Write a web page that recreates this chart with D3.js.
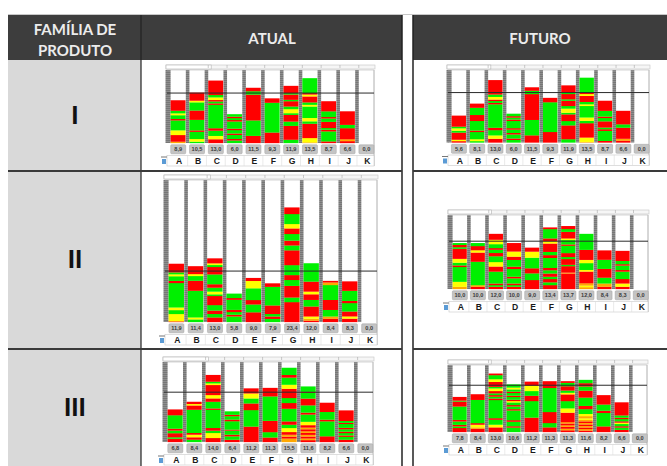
<!DOCTYPE html>
<html>
<head>
<meta charset="utf-8">
<script src="https://cdn.jsdelivr.net/npm/d3@7.9.0/dist/d3.min.js"></script>
<style>
  body { margin: 0; background: #fff; }
  svg { display: block; }
</style>
</head>
<body>
<svg id="chart" width="667" height="466"></svg>
<script>
// yamazumi charts: product family x (current / future)
const categories = ['A', 'B', 'C', 'D', 'E', 'F', 'G', 'H', 'I', 'J', 'K'];
const families = ['I', 'II', 'III'];
const headers = ['ATUAL', 'FUTURO'];
const taktTime = 10.4;

const atual1Totals  = [8.9, 10.5, 13.0, 6.0, 11.5, 9.3, 11.9, 13.5, 8.7, 6.6, 0.0];
const futuro1Totals = [5.6, 8.1, 13.0, 6.0, 11.5, 9.3, 11.9, 13.5, 8.7, 6.6, 0.0];
const atual2Totals  = [11.9, 11.4, 13.0, 5.8, 9.0, 7.9, 23.4, 12.0, 8.4, 8.3, 0.0];
const futuro2Totals = [10.0, 10.0, 12.0, 10.0, 9.0, 13.4, 13.7, 12.0, 8.4, 8.3, 0.0];
const atual3Totals  = [6.8, 8.4, 14.0, 6.4, 11.2, 11.3, 15.5, 11.6, 8.2, 6.6, 0.0];
const futuro3Totals = [7.8, 8.4, 13.0, 10.6, 11.2, 11.3, 11.3, 11.6, 8.2, 6.6, 0.0];

// element stacks, bottom to top: R = red, G = green, Y = yellow, O = orange
const atual1Stacks = [
  'O.3 R1.4 Y1 G2.1 R.3 G.8 Y.4 G.55 R2.2',
  'G.3 Y.55 G1.5 R.3 G2.2 R1.95 G1.7 Y.35 R1.67',
  'R.8 Y.7 G1.1 R.5 G4.9 R.3 G.4 R.3 Y.55 G.5 R3',
  'G.55 R.3 G.85 R.3 G.7 R.3 G1.5 R.3 G.4 R.3 G.5',
  'R1.5 G3.2 R5.35 G.7 R.7',
  'R2.2 G6.2 R.9',
  'G.7 R2.9 G.9 R1.4 G.35 Y.85 G.55 R1.1 G.3 R1.1 G.3 R1.5',
  'O.15 Y.9 R3 G.5 Y.7 G2.4 Y.35 G.5 R1.25 Y.4 R.3 G3.1',
  'R.35 G2.1 R.35 G.35 R1.3 G.7 R.3 G1.2 R2.1',
  'R.4 O.4 R2.3 G.7 R2.8',
  ''
];
const futuro1Stacks = [
  'R.3 Y.3 R1.5 G.4 Y.5 G.35 R2.3',
  'G.3 Y.4 G1.5 R.3 G2 R1.25 G1.5 R.85',
  ...atual1Stacks.slice(2)
];
const atual2Stacks = [
  'R.15 Y1.5 G.8 Y.55 G5 R.45 G.95 Y.4 G.4 R1.75',
  'G.55 Y.4 G5.45 R2.05 G.95 Y.4 R1.6',
  'R.95 G.7 R.7 G1.1 R1.85 G.35 Y.55 G.8 R.7 G2 R1.5 G.4 Y.35 R1',
  'G1.15 R.35 G.55 R.45 G2.05 R.35 G.9',
  'R2 G1.6 R.9 G2.4 Y1.5 R.6',
  'G.65 R.5 G.5 R1.75 G3.8 R.7',
  'R4.1 G.95 R2.4 G1.2 R1 G2.05 R3.05 G1 R1 G1.35 R1.15 Y.9 G2.05 R1.35',
  'R.3 O.4 Y.45 R2.05 G1.35 R1.15 Y.55 R2.05 G3.75',
  'R.7 O.45 G1.35 R2.05 G3.05 O.55 R.3',
  'R.7 Y.45 R1 G1.7 R.45 G2.05 R1.9',
  ''
];
const futuro2Stacks = [
  'O.5 Y1.1 G3.25 R.35 G.6 Y.85 R2.2 G.35 R.5 G.4',
  'R.5 O.35 G5.1 R2 Y.5 R.9 G.65',
  'R.5 G.35 R.35 G2.55 R1.1 Y.95 G1.25 R.7 G.7 R.35 G.85 Y.95 R1.25',
  'R.5 G.35 R.35 G1.1 R.35 G1.65 R.5 G1.45 R.7 Y1.1 R1.8',
  'R1.95 G1.45 R1.1 G2.3 Y1.3 R.85',
  'R.85 G.6 R.7 G.5 R.7 G.7 R.5 G2.15 R.6 G.7 R1.8 Y.5 R.6 G2 R.35',
  'R3.4 O.2 R1.4 G.3 R1.25 G.45 R.85 G1.6 R.3 G.95 Y.35 R1.45 G.6 R.65',
  'O.4 Y.35 O.5 R2.5 Y.35 G1.45 Y.7 R2.15 G3.4',
  'R.5 O.7 G1.25 R1.9 G1.95 R2',
  'R.5 Y.7 R.95 G1.6 R.35 G.95 R.3 G.7 R2.15',
  ''
];
const atual3Stacks = [
  'R.7 G.3 R.85 G.55 R.4 G2.8 R1.2',
  'G.5 R.5 Y.55 R.35 G4.85 R.9 Y.3 R.45',
  'R.85 Y1.05 G.5 R.55 G3.8 R.3 G1.4 R.7 Y.7 R2.1 Y.35 G.35 R1.4',
  'R.5 G.7 R.35 G.85 R.2 G1.75 R.35 G.7 R.3 G.7',
  'R3.25 G3.45 R1.4 G1.05 Y1.05 R1.05',
  'R.95 G1.1 R2.35 G5.05 R1.75',
  'O.75 R.4 O.4 R.55 Y.85 G.7 R.7 G2.65 R1.2 G1.05 R1.95 Y.85 G1.5 R.55 G1.5',
  'R.4 O.35 R.4 O.35 R.4 O.35 R.4 O.35 R.5 Y.7 G1.5 R.4 G1.5 R1.4 G1.2 R.2 G1.1',
  'R1.2 G3.1 R.35 G1.6 R1.9',
  'R.5 G.6 R.3 G.5 R.3 G.5 R.3 G.8 R.25 G.4 R2.2',
  ''
];
const futuro3Stacks = [
  'R.9 G.35 R.35 G.75 R.35 G2.95 R1.1 G.2 R.8',
  'R.75 O.3 Y.6 R.35 G5.2 R1.25',
  'R1.05 Y.6 G1.1 R.35 G4.05 R.35 G.4 R.35 G.4 R.5 Y.6 G.35 R1.1 Y.6 G.9 R.35',
  'G1 R.3 G1 R.35 G2.15 R.3 G.6 R.3 G.6 Y.3 R.3 G.6 R.3 G.6 R.3 G.5 Y.4 G.7',
  'R3.25 G3.7 R1.2 G1.05 Y1.2 R.9',
  'R1.05 G.95 R2.45 G5.35 R1.5',
  'R.4 O.35 R.4 O.35 R.4 O.3 R2.1 Y.95 G1.6 R1.5 Y.35 G.5 R.95 G.75 R.35',
  'R.35 O.35 R.35 O.35 R.35 O.35 R.35 O.35 Y.35 O.5 Y.5 G1.1 R.75 G1.9 R1.6 G.95 R.75 G.75',
  'R1.25 G2.95 R.5 G1.35 R2.05',
  'R.5 G.5 R.3 G.5 Y.3 R.3 G.5 R.3 G.5 R2.9',
  ''
];

const colors = { R: '#ff0000', G: '#00f000', Y: '#ffff00', O: '#ffa800' };

// panel placement inside the table
const panels = [
  { totals: atual1Totals,  stacks: atual1Stacks,  x0: 167, x1: 374, top: 70,  base: 143,   ymax: 15.2 },
  { totals: futuro1Totals, stacks: futuro1Stacks, x0: 448, x1: 649, top: 70,  base: 142.5, ymax: 15.1 },
  { totals: atual2Totals,  stacks: atual2Stacks,  x0: 165, x1: 377, top: 180, base: 322,   ymax: 29.0 },
  { totals: futuro2Totals, stacks: futuro2Stacks, x0: 449, x1: 648, top: 215, base: 289,   ymax: 16.1 },
  { totals: atual3Totals,  stacks: atual3Stacks,  x0: 164, x1: 373, top: 362, base: 442,   ymax: 16.7 },
  { totals: futuro3Totals, stacks: futuro3Stacks, x0: 449, x1: 647, top: 365, base: 432,   ymax: 14.9 }
];

const svg = d3.select('#chart');
const fmt = v => d3.format('.1f')(v).replace('.', ',');

const defs = svg.append('defs');
const pat = defs.append('pattern').attr('id', 'hatch')
  .attr('width', 3).attr('height', 2).attr('patternUnits', 'userSpaceOnUse');
pat.append('rect').attr('width', 3).attr('height', 2).attr('fill', '#8e8e8e');
pat.append('rect').attr('width', 3).attr('height', 1).attr('fill', '#767676');

// ---- table ----
const rowY = [60, 171, 349, 466];
const tbl = svg.append('g');
tbl.append('rect').attr('x', 8).attr('y', 15).attr('width', 394).attr('height', 45).attr('fill', '#3d3d3d');
tbl.append('rect').attr('x', 413).attr('y', 15).attr('width', 254).attr('height', 45).attr('fill', '#3d3d3d');
tbl.append('rect').attr('x', 8).attr('y', 60).attr('width', 133).attr('height', 406).attr('fill', '#d9d9d9');
tbl.append('line').attr('x1', 8).attr('x2', 667).attr('y1', 14.5).attr('y2', 14.5).attr('stroke', '#c8c8c8');

[141, 402, 413].forEach(x => {
  tbl.append('line').attr('x1', x).attr('x2', x).attr('y1', 15).attr('y2', 466)
    .attr('stroke', '#222').attr('stroke-width', x === 141 ? 1.2 : 1.5);
});
[171, 349].forEach(y => {
  tbl.append('line').attr('x1', 8).attr('x2', 402).attr('y1', y).attr('y2', y).attr('stroke', '#3a3a3a').attr('stroke-width', 2);
  tbl.append('line').attr('x1', 413).attr('x2', 667).attr('y1', y).attr('y2', y).attr('stroke', '#3a3a3a').attr('stroke-width', 2);
});

const hdrFont = 'Lato, "Open Sans", sans-serif';
tbl.append('text').attr('x', 75).attr('y', 35).text('FAMÍLIA DE');
tbl.append('text').attr('x', 75).attr('y', 56).text('PRODUTO');
tbl.append('text').attr('x', 272).attr('y', 44).text(headers[0]);
tbl.append('text').attr('x', 540).attr('y', 44).text(headers[1]);
tbl.selectAll('text').attr('text-anchor', 'middle').attr('font-family', hdrFont)
  .attr('font-weight', 700).attr('font-size', 15).attr('fill', '#ececec');

tbl.selectAll('text.fam').data(families).join('text').attr('class', 'fam')
  .attr('x', 75).attr('y', (d, i) => (rowY[i] + rowY[i + 1]) / 2 + 8)
  .attr('text-anchor', 'middle').attr('font-family', hdrFont).attr('font-weight', 900)
  .attr('font-size', 24).attr('fill', '#111').text(d => d);

// ---- yamazumi panels ----
function drawPanel(p) {
  const g = svg.append('g');
  const x = d3.scaleBand().domain(categories).range([p.x0, p.x1]);
  const y = d3.scaleLinear().domain([0, p.ymax]).range([p.base, p.top]);
  const bw = x.bandwidth();
  const sw = 3.6;
  const cx = c => x(c) + sw + (bw - sw) / 2;

  // top strip
  g.append('rect').attr('x', p.x0 - 1).attr('y', p.top - 5).attr('width', p.x1 - p.x0 + 2).attr('height', 4)
    .attr('fill', '#f6f6f6').attr('stroke', '#c4c4c4').attr('stroke-width', 0.6);
  g.append('rect').attr('x', p.x0 - 1).attr('y', p.top - 5).attr('width', bw * 2.4).attr('height', 4)
    .attr('fill', '#fff').attr('stroke', '#b0b0b0').attr('stroke-width', 0.6);
  g.selectAll('line.tick').data(categories.slice(2)).join('line').attr('class', 'tick')
    .attr('x1', c => x(c) + sw).attr('x2', c => x(c) + sw).attr('y1', p.top - 5).attr('y2', p.top - 2)
    .attr('stroke', '#a8a8a8').attr('stroke-width', 0.6);

  // column stripes
  g.append('rect').attr('x', p.x0 - 1.5).attr('y', p.top).attr('width', 2).attr('height', p.base - p.top).attr('fill', 'url(#hatch)');
  g.selectAll('rect.stripe').data(categories).join('rect').attr('class', 'stripe')
    .attr('x', c => x(c)).attr('y', p.top).attr('width', sw).attr('height', p.base - p.top)
    .attr('fill', 'url(#hatch)');
  g.append('line').attr('x1', p.x1).attr('x2', p.x1).attr('y1', p.top).attr('y2', p.base + 23)
    .attr('stroke', '#9a9a9a').attr('stroke-width', 0.8);
  g.append('line').attr('x1', p.x0).attr('x2', p.x1).attr('y1', p.top).attr('y2', p.top)
    .attr('stroke', '#bbb').attr('stroke-width', 0.6);

  // stacked elements
  categories.forEach((c, i) => {
    const segs = p.stacks[i].split(' ').filter(Boolean).map(t => ({ k: t[0], v: parseFloat(t.slice(1)) }));
    const sum = d3.sum(segs, s => s.v) || 1;
    const k = p.totals[i] / sum;
    let acc = 0;
    segs.forEach(s => {
      const y0 = acc, y1 = acc + s.v * k;
      acc = y1;
      g.append('rect').attr('x', x(c) + sw).attr('width', bw - sw - 0.3)
        .attr('y', y(y1)).attr('height', y(y0) - y(y1) + 0.15)
        .attr('fill', colors[s.k]);
    });
  });

  // takt line
  g.append('line').attr('x1', p.x0).attr('x2', p.x1).attr('y1', y(taktTime)).attr('y2', y(taktTime))
    .attr('stroke', '#2a2a2a').attr('stroke-width', 1);

  // value boxes
  g.selectAll('rect.lab').data(categories).join('rect').attr('class', 'lab')
    .attr('x', c => cx(c) - 7.5).attr('y', p.base + 1.8).attr('width', 15).attr('height', 9).attr('rx', 1)
    .attr('fill', '#c4c4c4').attr('stroke', '#a0a0a0').attr('stroke-width', 0.5);
  g.selectAll('text.lab').data(categories).join('text').attr('class', 'lab')
    .attr('x', c => cx(c)).attr('y', p.base + 8.3).attr('text-anchor', 'middle')
    .attr('font-family', '"Liberation Sans", Arial, sans-serif').attr('font-weight', 700)
    .attr('font-size', 5.6).attr('fill', '#3a3a3a').text((c, i) => fmt(p.totals[i]));

  // letter row
  g.append('rect').attr('x', p.x0).attr('y', p.base + 12.5).attr('width', p.x1 - p.x0).attr('height', 10.5)
    .attr('fill', '#fff').attr('stroke', '#c8c8c8').attr('stroke-width', 0.6);
  g.selectAll('line.sep').data(categories.slice(1)).join('line').attr('class', 'sep')
    .attr('x1', c => x(c) + sw / 2).attr('x2', c => x(c) + sw / 2).attr('y1', p.base + 12.5).attr('y2', p.base + 23)
    .attr('stroke', '#dcdcdc').attr('stroke-width', 0.6);
  g.selectAll('text.cat').data(categories).join('text').attr('class', 'cat')
    .attr('x', c => cx(c) + 1).attr('y', p.base + 21.2).attr('text-anchor', 'middle')
    .attr('font-family', '"Liberation Sans", Arial, sans-serif').attr('font-weight', 700)
    .attr('font-size', 8.6).attr('fill', '#1a1a1a').text(c => c);

  // sheet icon
  g.append('rect').attr('x', p.x0 - 5).attr('y', p.base + 16).attr('width', 4).attr('height', 5).attr('fill', '#5b9bd5');
  g.append('line').attr('x1', p.x0 - 6).attr('x2', p.x0).attr('y1', p.base + 14).attr('y2', p.base + 14)
    .attr('stroke', '#777').attr('stroke-width', 1);
}

panels.forEach(drawPanel);
</script>
</body>
</html>
